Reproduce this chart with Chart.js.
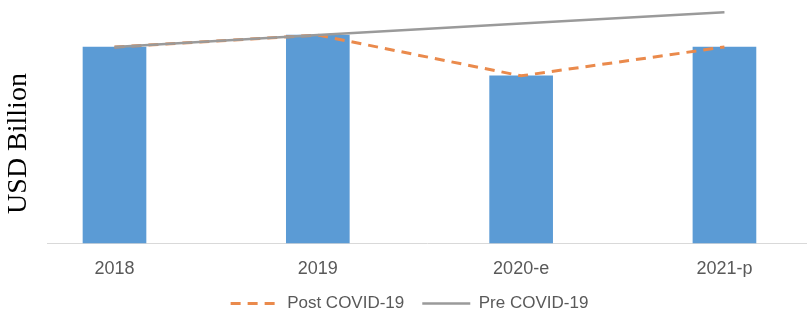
<!DOCTYPE html>
<html>
<head>
<meta charset="utf-8">
<script src="https://cdn.jsdelivr.net/npm/chart.js@4/dist/chart.umd.min.js"></script>
<style>
  html, body { margin: 0; padding: 0; background: #ffffff; overflow: hidden; }
  #wrap { width: 807px; height: 310px; position: relative; }
</style>
</head>
<body>
<div id="wrap"><canvas id="c"></canvas></div>
<script>
// ---- data ----
const categories = ['2018', '2019', '2020-e', '2021-p'];
const marketValues = [19.7, 20.9, 16.8, 19.7];      // bars (USD Billion)
const postCovid = [19.7, 20.9, 16.8, 19.7];         // dashed orange line
const preCovid = [19.7, 20.9, 22.05, 23.2];         // solid grey line
const seriesNames = ['Market', 'Post COVID-19', 'Pre COVID-19'];
const yTitle = 'USD Billion';

const toPoints = arr => arr.map((v, i) => ({ x: i, y: v }));

new Chart(document.getElementById('c'), {
  type: 'bar',
  data: {
    datasets: [
      {
        type: 'bar',
        label: seriesNames[0],
        data: toPoints(marketValues),
        backgroundColor: '#5B9BD5',
        borderWidth: 0,
        barThickness: 63,
        clip: false,
        order: 3
      },
      {
        type: 'line',
        label: seriesNames[1],
        data: toPoints(postCovid),
        borderColor: '#EA8A4C',
        backgroundColor: '#EA8A4C',
        borderWidth: 3,
        borderDash: [10, 7],
        pointRadius: 0,
        tension: 0,
        fill: false,
        clip: false,
        order: 2
      },
      {
        type: 'line',
        label: seriesNames[2],
        data: toPoints(preCovid),
        borderColor: '#9A9A9A',
        backgroundColor: '#9A9A9A',
        borderWidth: 2.5,
        pointRadius: 0,
        tension: 0,
        fill: false,
        clip: false,
        order: 1
      }
    ]
  },
  options: {
    responsive: true,
    maintainAspectRatio: false,
    animation: false,
    devicePixelRatio: 1,
    layout: { padding: { top: 44, bottom: -12, left: 12, right: 0 } },
    plugins: {
      tooltip: { enabled: false },
      legend: {
        position: 'bottom',
        align: 'center',
        labels: {
          usePointStyle: true,
          pointStyle: 'line',
          pointStyleWidth: 48,
          boxWidth: 48,
          padding: 18,
          color: '#595959',
          font: { family: "'Liberation Sans', Arial, sans-serif", size: 17 },
          generateLabels: chart => {
            const items = Chart.defaults.plugins.legend.labels.generateLabels(chart);
            return items.map(it => {
              const ds = chart.data.datasets[it.datasetIndex];
              it.lineDash = ds.borderDash || [];
              it.lineWidth = ds.borderWidth;
              it.strokeStyle = ds.borderColor;
              it.fillStyle = ds.borderColor;
              it.pointStyle = 'line';
              return it;
            });
          },
          filter: item => item.datasetIndex !== 0,
          sort: (a, b) => a.datasetIndex - b.datasetIndex
        }
      }
    },
    scales: {
      x: {
        type: 'linear',
        offset: false,
        min: -0.332,
        max: 3.406,
        grid: { display: false, drawTicks: false, offset: false },
        border: { display: true, color: '#D9D9D9', width: 1 },
        ticks: {
          stepSize: 1,
          includeBounds: false,
          autoSkip: false,
          maxRotation: 0,
          padding: 15,
          color: '#595959',
          font: { family: "'Liberation Sans', Arial, sans-serif", size: 18 },
          callback: v => (Number.isInteger(v) && categories[v] !== undefined) ? categories[v] : ''
        },
        afterFit: s => { s.height = 34; }
      },
      y: {
        min: 0,
        max: 20,
        grid: { display: false, drawTicks: false },
        border: { display: false },
        ticks: { display: false },
        title: {
          display: true,
          text: yTitle,
          color: '#000000',
          font: { family: "'Liberation Serif', 'Times New Roman', serif", size: 28, lineHeight: 0.5 },
          padding: { top: 0, bottom: 0 }
        },
        afterFit: s => { s.width = 35; }
      }
    }
  }
});
</script>
</body>
</html>
